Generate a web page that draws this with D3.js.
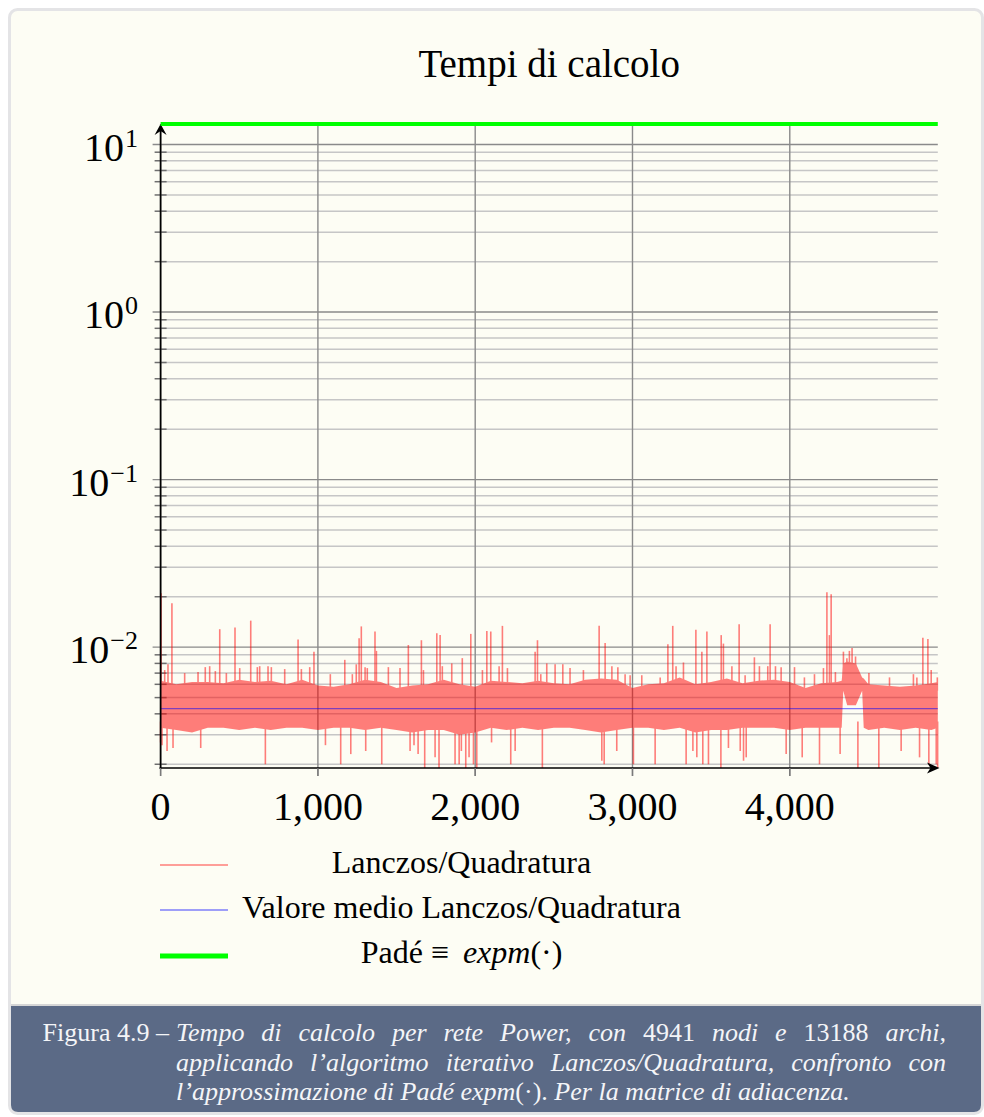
<!DOCTYPE html>
<html>
<head>
<meta charset="utf-8">
<script src="https://cdn.jsdelivr.net/npm/d3@7"></script>
<style>
  html, body { margin: 0; padding: 0; background: #ffffff; }
  svg { display: block; }
</style>
</head>
<body>
<svg id="fig" width="984" height="1117"></svg>
<script>
// ---------------------------------------------------------------
// Computation times (seconds) per node, Power network (4941 nodes)
// ---------------------------------------------------------------
const nodeCount = 4941;
const padeTime = 13.26;     // Padé expm(·), constant reference
const meanTime = 0.0043;    // mean Lanczos/Quadrature time

// Dense body of the Lanczos/Quadrature series: upper and lower envelope
const coreNodes = [0, 100, 200, 300, 400, 500, 600, 700, 800, 900, 1000, 1100, 1200,
  1300, 1400, 1500, 1600, 1700, 1800, 1900, 2000, 2100, 2200, 2300, 2400, 2500, 2600,
  2700, 2800, 2900, 3000, 3100, 3200, 3300, 3400, 3500, 3600, 3700, 3800, 3900, 4000,
  4100, 4200, 4300, 4330, 4340, 4365, 4420, 4460, 4470, 4500, 4600, 4700, 4800, 4900, 4941];
const coreHigh = [0.0063, 0.0060, 0.0062, 0.0062, 0.0061, 0.0064, 0.0062, 0.0063, 0.0060,
  0.0064, 0.0059, 0.0058, 0.0060, 0.0064, 0.0062, 0.0057, 0.0059, 0.0060, 0.0064, 0.0060,
  0.0058, 0.0063, 0.0062, 0.0061, 0.0063, 0.0061, 0.0060, 0.0064, 0.0065, 0.0064, 0.0057,
  0.0060, 0.0061, 0.0066, 0.0060, 0.0062, 0.0065, 0.0061, 0.0063, 0.0064, 0.0062, 0.0057,
  0.0061, 0.0062, 0.0063, 0.0080, 0.0082, 0.0080, 0.0066, 0.0065, 0.0060, 0.0059, 0.0058,
  0.0059, 0.0061, 0.0062];
const coreLow = [0.0033, 0.0032, 0.0031, 0.0033, 0.0033, 0.0032, 0.0033, 0.0032, 0.0033,
  0.0033, 0.0032, 0.0033, 0.0033, 0.0032, 0.0033, 0.0032, 0.0031, 0.0032, 0.0032, 0.0030,
  0.0031, 0.0033, 0.0032, 0.0033, 0.0032, 0.0033, 0.0033, 0.0032, 0.0031, 0.0032, 0.0033,
  0.0033, 0.0032, 0.0033, 0.0031, 0.0032, 0.0032, 0.0033, 0.0033, 0.0033, 0.0032, 0.0033,
  0.0033, 0.0033, 0.0033, 0.0055, 0.0045, 0.0045, 0.0055, 0.0033, 0.0032, 0.0033, 0.0032,
  0.0033, 0.0032, 0.0033];

// Isolated slow nodes (peaks above the body)
const peakNodes = [3, 26, 47, 72, 153, 238, 284, 312, 348, 376, 418, 473, 503, 573, 615,
  630, 683, 704, 789, 874, 895, 948, 975, 1079, 1171, 1219, 1244, 1262, 1276, 1300, 1314,
  1363, 1372, 1448, 1522, 1575, 1658, 1671, 1756, 1777, 1791, 1851, 1918, 1972, 2046, 2074,
  2099, 2152, 2173, 2205, 2381, 2396, 2417, 2455, 2508, 2557, 2603, 2688, 2788, 2826, 2869,
  2907, 2953, 2985, 3059, 3176, 3225, 3256, 3277, 3324, 3403, 3441, 3473, 3564, 3578, 3632,
  3678, 3716, 3775, 3807, 3860, 3875, 3909, 3945, 4030, 4093, 4157, 4214, 4236, 4252, 4263,
  4290, 4341, 4363, 4379, 4396, 4418, 4503, 4634, 4786, 4808, 4846, 4878, 4899, 4938];
const peakTimes = [0.0210, 0.0073, 0.0079, 0.0183, 0.0070, 0.0071, 0.0076, 0.0077, 0.0072,
  0.0128, 0.0070, 0.0131, 0.0075, 0.0144, 0.0076, 0.0077, 0.0077, 0.0076, 0.0074, 0.0111,
  0.0074, 0.0076, 0.0094, 0.0069, 0.0084, 0.0069, 0.0079, 0.0113, 0.0133, 0.0076, 0.0075,
  0.0124, 0.0095, 0.0076, 0.0075, 0.0103, 0.0110, 0.0073, 0.0121, 0.0118, 0.0077, 0.0080,
  0.0086, 0.0120, 0.0073, 0.0125, 0.0124, 0.0077, 0.0134, 0.0075, 0.0094, 0.0110, 0.0069,
  0.0080, 0.0079, 0.0079, 0.0075, 0.0073, 0.0134, 0.0106, 0.0077, 0.0076, 0.0069, 0.0068,
  0.0068, 0.0066, 0.0104, 0.0134, 0.0077, 0.0081, 0.0127, 0.0094, 0.0124, 0.0118, 0.0105,
  0.0077, 0.0137, 0.0068, 0.0087, 0.0077, 0.0077, 0.0137, 0.0077, 0.0076, 0.0076, 0.0066,
  0.0069, 0.0075, 0.0213, 0.0118, 0.0207, 0.0071, 0.0094, 0.0086, 0.0095, 0.0099, 0.0088,
  0.0070, 0.0066, 0.0069, 0.0066, 0.0114, 0.0112, 0.0073, 0.0066];

// Isolated fast nodes (dips below the body)
const dipNodes = [0, 9, 41, 79, 255, 666, 1048, 1145, 1209, 1304, 1406, 1586, 1611, 1637,
  1679, 1745, 1770, 1872, 1898, 1912, 1940, 1961, 1989, 2010, 2104, 2226, 2254, 2427, 2805,
  2820, 2900, 3006, 3144, 3341, 3384, 3409, 3447, 3483, 3562, 3610, 3685, 3706, 3723, 3977,
  4079, 4189, 4320, 4433, 4566, 4708, 4825, 4884, 4931, 4940];
const dipTimes = [0.0027, 0.0026, 0.0024, 0.0025, 0.0025, 0.0020, 0.0026, 0.0020, 0.0023,
  0.0024, 0.0020, 0.0024, 0.0026, 0.0023, 0.0019, 0.0022, 0.0019, 0.0020, 0.0020, 0.0024,
  0.0019, 0.0022, 0.0020, 0.0019, 0.0027, 0.0020, 0.0024, 0.0019, 0.0021, 0.0020, 0.0024,
  0.0020, 0.0020, 0.0020, 0.0024, 0.0022, 0.0020, 0.0020, 0.0019, 0.0025, 0.0024, 0.0021,
  0.0022, 0.0023, 0.0022, 0.0020, 0.0023, 0.0019, 0.0019, 0.0024, 0.0022, 0.0020, 0.0020,
  0.0019];

// Axis ticks
const xTicks = [0, 1000, 2000, 3000, 4000];
const yDecades = [-2, -1, 0, 1];

// Legend entries
const legendLabels = ["Lanczos/Quadratura", "Valore medio Lanczos/Quadratura", "Padé ≡"];

// ---------------------------------------------------------------
const serif = "'Liberation Serif', 'Times New Roman', serif";
const svg = d3.select("#fig");

// Card background and caption band
svg.append("rect")
  .attr("x", 9.5).attr("y", 9.5).attr("width", 973).attr("height", 1104)
  .attr("rx", 8).attr("fill", "#fdfdf4").attr("stroke", "#e4e4e6").attr("stroke-width", 3);

const bandTop = 1006, bandBottom = 1112, bandL = 11, bandR = 981, r = 7;
svg.append("path")
  .attr("d", `M${bandL},${bandTop} H${bandR} V${bandBottom - r} Q${bandR},${bandBottom} ${bandR - r},${bandBottom}
              H${bandL + r} Q${bandL},${bandBottom} ${bandL},${bandBottom - r} Z`)
  .attr("fill", "#5b6a86");
svg.append("line")
  .attr("x1", bandL).attr("x2", bandR).attr("y1", bandTop - 1).attr("y2", bandTop - 1)
  .attr("stroke", "#d6d6d6").attr("stroke-width", 2);

// Scales
const allTimes = coreLow.concat(coreHigh, peakTimes, dipTimes, [padeTime]);
const x = d3.scaleLinear().domain([0, nodeCount]).range([160.6, 937.8]);
const y = d3.scaleLog().domain([d3.min(allTimes), padeTime]).range([768, 124]);
const [yLo, yHi] = y.domain();

// Grid: minor (2..9 × 10^k) and major (10^k)
const minorVals = [];
for (let k = Math.floor(Math.log10(yLo)); k <= Math.ceil(Math.log10(yHi)); k++) {
  for (let m = 2; m <= 9; m++) {
    const v = m * Math.pow(10, k);
    if (v >= yLo && v <= yHi) minorVals.push(v);
  }
}
const grid = svg.append("g");
grid.selectAll("line.minor").data(minorVals).join("line")
  .attr("class", "minor")
  .attr("x1", x(0)).attr("x2", x(nodeCount))
  .attr("y1", d => y(d)).attr("y2", d => y(d))
  .attr("stroke", "#c6c6c6").attr("stroke-width", 1.5);
grid.selectAll("line.minortick").data(minorVals).join("line")
  .attr("x1", x(0) - 6).attr("x2", x(0) + 6)
  .attr("y1", d => y(d)).attr("y2", d => y(d))
  .attr("stroke", "#6e6e6e").attr("stroke-width", 1.5);
const decadeVals = yDecades.map(k => Math.pow(10, k));
grid.selectAll("line.major").data(decadeVals).join("line")
  .attr("x1", x(0) - 8).attr("x2", x(nodeCount))
  .attr("y1", d => y(d)).attr("y2", d => y(d))
  .attr("stroke", "#8a8a8a").attr("stroke-width", 1.4);
grid.selectAll("line.vmajor").data(xTicks).join("line")
  .attr("x1", d => x(d)).attr("x2", d => x(d))
  .attr("y1", y(yHi)).attr("y2", 776)
  .attr("stroke", "#8a8a8a").attr("stroke-width", 1.4);

// Lanczos/Quadrature series: body, peaks and dips, painted as one translucent layer
const series = svg.append("g").attr("opacity", 0.5);
const core = coreNodes.map((n, i) => ({ n, hi: coreHigh[i], lo: coreLow[i] }));
series.append("path")
  .datum(core)
  .attr("d", d3.area().x(d => x(d.n)).y0(d => y(d.lo)).y1(d => y(d.hi)))
  .attr("fill", "#ff0000");
series.selectAll("line.peak").data(peakNodes.map((n, i) => ({ n, t: peakTimes[i] }))).join("line")
  .attr("x1", d => x(d.n)).attr("x2", d => x(d.n))
  .attr("y1", y(0.0055)).attr("y2", d => y(d.t))
  .attr("stroke", "#ff0000").attr("stroke-width", 1.6);
series.selectAll("line.dip").data(dipNodes.map((n, i) => ({ n, t: dipTimes[i] }))).join("line")
  .attr("x1", d => x(d.n)).attr("x2", d => x(d.n))
  .attr("y1", y(0.0036)).attr("y2", d => y(d.t))
  .attr("stroke", "#ff0000").attr("stroke-width", 1.6);

// Mean line
svg.append("line")
  .attr("x1", x(0)).attr("x2", x(nodeCount))
  .attr("y1", y(meanTime)).attr("y2", y(meanTime))
  .attr("stroke", "#0000ff").attr("stroke-opacity", 0.5).attr("stroke-width", 1.3);

// Axes with arrow heads
const axes = svg.append("g");
axes.append("line")
  .attr("x1", x(0)).attr("x2", x(0)).attr("y1", 769).attr("y2", 128)
  .attr("stroke", "#000").attr("stroke-width", 1.7);
axes.append("path")
  .attr("d", `M${x(0)},124 L${x(0) - 6},135 L${x(0)},131 L${x(0) + 6},135 Z`)
  .attr("fill", "#000");
axes.append("line")
  .attr("x1", x(0) - 1).attr("x2", 934).attr("y1", 768).attr("y2", 768)
  .attr("stroke", "#000").attr("stroke-width", 1.7);
axes.append("path")
  .attr("d", `M939.5,768 L927,762.5 L930.5,768 L927,773.5 Z`)
  .attr("fill", "#000");
axes.selectAll("line.xtick").data(xTicks).join("line")
  .attr("x1", d => x(d)).attr("x2", d => x(d)).attr("y1", 768).attr("y2", 776)
  .attr("stroke", "#7a7a7a").attr("stroke-width", 1.4);

// Padé reference line (at the top of the axis)
svg.append("line")
  .attr("x1", x(0)).attr("x2", x(nodeCount))
  .attr("y1", y(padeTime)).attr("y2", y(padeTime))
  .attr("stroke", "#00ff00").attr("stroke-width", 3.8);

// Tick labels
const fmt = d3.format(",");
svg.selectAll("text.xl").data(xTicks).join("text")
  .attr("x", d => x(d)).attr("y", 820)
  .attr("text-anchor", "middle")
  .attr("font-family", serif).attr("font-size", 40).attr("fill", "#000")
  .text(d => fmt(d));

const yl = svg.selectAll("text.yl").data(yDecades).join("text")
  .attr("x", 138).attr("y", d => y(Math.pow(10, d)) + 16)
  .attr("text-anchor", "end")
  .attr("font-family", serif).attr("fill", "#000");
yl.append("tspan").attr("font-size", 40).text("10");
yl.append("tspan").attr("font-size", 26).attr("dy", -14).attr("dx", 1)
  .text(d => (d < 0 ? "\u2212" + Math.abs(d) : String(d)));

// Title
svg.append("text")
  .attr("x", (x(0) + x(nodeCount)) / 2).attr("y", 77)
  .attr("text-anchor", "middle")
  .attr("font-family", serif).attr("font-size", 39).attr("fill", "#000")
  .text("Tempi di calcolo");

// Legend
const legendRows = [
  { label: legendLabels[0], color: "#ff0000", opacity: 0.5, width: 1.4, lineY: 865, textY: 873 },
  { label: legendLabels[1], color: "#0000ff", opacity: 0.5, width: 1.4, lineY: 910, textY: 918 },
  { label: legendLabels[2], color: "#00ff00", opacity: 1, width: 5, lineY: 956, textY: 963 }
];
const legend = svg.append("g");
legendRows.forEach((row, i) => {
  legend.append("line")
    .attr("x1", 160).attr("x2", 228).attr("y1", row.lineY).attr("y2", row.lineY)
    .attr("stroke", row.color).attr("stroke-opacity", row.opacity).attr("stroke-width", row.width);
  const t = legend.append("text")
    .attr("x", 461.5).attr("y", row.textY)
    .attr("text-anchor", "middle")
    .attr("font-family", serif).attr("font-size", 32).attr("fill", "#000");
  t.append("tspan").text(row.label);
  if (i === 2) {
    t.append("tspan").attr("dx", 14).attr("font-style", "italic").text("expm");
    t.append("tspan").text("(·)");
  }
});

// Caption (justified, white on the band); glyphs slightly condensed
const capLead = "Figura 4.9 –";
const capLines = [
  [["Tempo"], ["di"], ["calcolo"], ["per"], ["rete"], ["Power,"], ["con"], ["4941", 0], ["nodi"],
   ["e"], ["13188", 0], ["archi,"]],
  [["applicando"], ["l’algoritmo"], ["iterativo"], ["Lanczos/Quadratura,"], ["confronto"], ["con"]],
  [["l’approssimazione"], ["di"], ["Padé"], ["expm", 1, "(·).", 0], ["Per"], ["la"], ["matrice"],
   ["di"], ["adiacenza."]]
];
const capLeft = 176, capRight = 946, capBase = [1041, 1071, 1100];
const capFont = 24.5;

function makeWord(parent, parts, fs) {
  const t = parent.append("text").attr("font-size", fs);
  for (let i = 0; i < parts.length; i += 2) {
    const italic = parts[i + 1] === undefined ? 1 : parts[i + 1];
    t.append("tspan").attr("font-style", italic ? "italic" : "normal").text(parts[i]);
  }
  return t;
}

// horizontal condensing chosen so the last (ragged) line ends where it should
let capSquash = 1;
{
  const probe = svg.append("g").attr("font-family", serif);
  let w = 0;
  capLines[2].forEach(p => { w += makeWord(probe, p, capFont).node().getComputedTextLength(); });
  w += 0.25 * capFont * (capLines[2].length - 1);
  probe.remove();
  capSquash = Math.max(0.85, Math.min(1.1, (850 - capLeft) / w));
}
const cap = svg.append("g").attr("fill", "#f4f5f8").attr("font-family", serif)
  .attr("transform", `scale(${capSquash},1)`);

cap.append("text").attr("x", 169 / capSquash).attr("y", capBase[0])
  .attr("text-anchor", "end").attr("font-size", capFont).text(capLead);
capLines.forEach((words, li) => {
  const nodes = words.map(p => makeWord(cap, p, capFont));
  const widths = nodes.map(n => n.node().getComputedTextLength());
  const total = d3.sum(widths);
  const left = capLeft / capSquash, right = capRight / capSquash;
  const gap = li < 2 ? (right - left - total) / (words.length - 1) : 0.25 * capFont;
  let cx = left;
  nodes.forEach((n, i) => {
    n.attr("x", cx).attr("y", capBase[li]);
    cx += widths[i] + gap;
  });
});
</script>
</body>
</html>
